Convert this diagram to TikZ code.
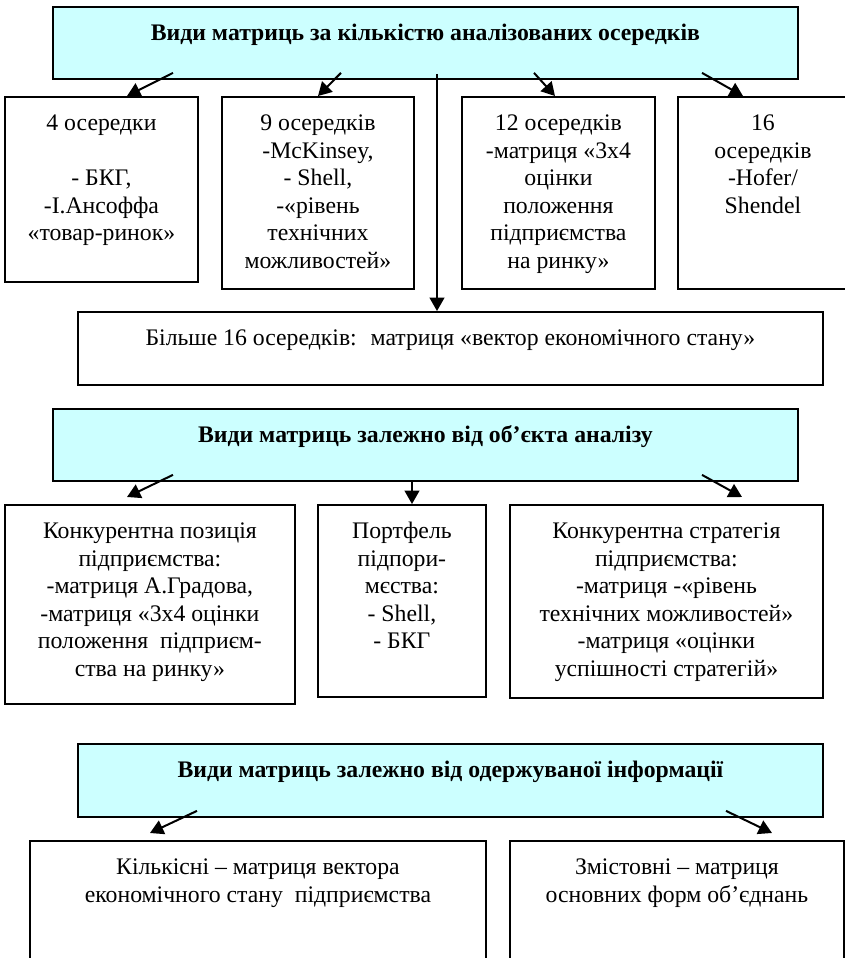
\documentclass[tikz,border=0pt]{standalone}
\usepackage{fontspec}
\setmainfont{Liberation Serif}
\usetikzlibrary{arrows.meta,calc}
\definecolor{headcyan}{RGB}{204,255,255}
\newlength{\pxu}
\setlength{\pxu}{0.75pt}
\newcommand{\cell}[3]{\parbox[c][#2\pxu][t]{#1\pxu}{\centering\rule{0pt}{34\pxu}#3\par}}
\tikzset{
  box/.style={draw,line width=1.4pt,inner sep=0pt,anchor=north west,fill=white,font=\fontsize{17.8}{20.6}\selectfont},
  head/.style={box,fill=headcyan,font=\fontsize{17.8}{20.6}\selectfont\bfseries},
  arr/.style={-{Triangle[length=10pt,width=11pt]},line width=1.5pt}
}

\begin{document}
\begin{tikzpicture}[x=0.75pt,y=0.75pt]
\useasboundingbox (0,0) rectangle (845,-958);
% matrices by number of cells
\node[head] (t1) at (52,-6) {\cell{745}{72}{Види матриць за кількістю аналізованих осередків}};
\node[box] (b1) at (4,-96) {\cell{193}{185}{4 осередки\\\mbox{}\\- БКГ,\\-І.Ансоффа\\«товар-ринок»}};
\node[box] (b2) at (221,-96) {\cell{192}{192}{9 осередків\\-McKinsey,\\- Shell,\\-«рівень\\технічних\\можливостей»}};
\node[box] (b3) at (461,-96) {\cell{193}{192}{12 осередків\\-матриця «3х4\\оцінки\\положення\\підприємства\\на ринку»}};
\node[box] (b4) at (677,-96) {\cell{170}{192}{16\\осередків\\-Hofer/\\Shendel}};
\node[box] (mid) at (77,-311) {\cell{745}{73}{Більше 16 осередків:~ матриця «вектор економічного стану»}};
\draw[arr] ($(t1.south west)+(121,7)$) -- ($(b1.north west)+(123,0)$);
\draw[arr] ($(t1.south west)+(289,7)$) -- ($(b2.north west)+(97,0)$);
\draw[arr] ($(t1.south west)+(482,7)$) -- ($(b3.north west)+(94,0)$);
\draw[arr] ($(t1.south west)+(650,7)$) -- ($(b4.north west)+(66,0)$);
\draw[arr] ($(t1.south west)+(385,6)$) -- ($(mid.north west)+(360,0)$);
% matrices by object of analysis
\node[head] (t2) at (52,-408) {\cell{745}{72}{Види матриць залежно від об’єкта аналізу}};
\node[box] (ra) at (4,-504) {\cell{290}{199}{Конкурентна позиція\\підприємства:\\-матриця А.Градова,\\-матриця «3х4 оцінки\\положення~ підприєм-\\ства на ринку»}};
\node[box] (rb) at (317,-504) {\cell{168}{192}{Портфель\\підпори-\\мєства:\\- Shell,\\- БКГ}};
\node[box] (rc) at (509,-504) {\cell{313}{193}{Конкурентна стратегія\\підприємства:\\-матриця -«рівень\\технічних можливостей»\\-матриця «оцінки\\успішності стратегій»}};
\draw[arr] ($(t2.south west)+(121,7)$) -- ($(ra.north west)+(123,7)$);
\draw[arr] ($(t2.south west)+(360,0)$) -- ($(rb.north west)+(95,0)$);
\draw[arr] ($(t2.south west)+(650,7)$) -- ($(rc.north west)+(233,7)$);
% matrices by information obtained
\node[head] (t3) at (77,-743) {\cell{745}{73}{Види матриць залежно від одержуваної інформації}};
\node[box] (cl) at (29,-840) {\cell{456}{140}{Кількісні – матриця вектора\\економічного стану~ підприємства}};
\node[box] (cr) at (509,-840) {\cell{334}{140}{Змістовні – матриця\\основних форм об’єднань}};
\draw[arr] ($(t3.south west)+(120,7)$) -- ($(cl.north west)+(121,7)$);
\draw[arr] ($(t3.south west)+(649,7)$) -- ($(cr.north west)+(263,7)$);
\end{tikzpicture}
\end{document}
